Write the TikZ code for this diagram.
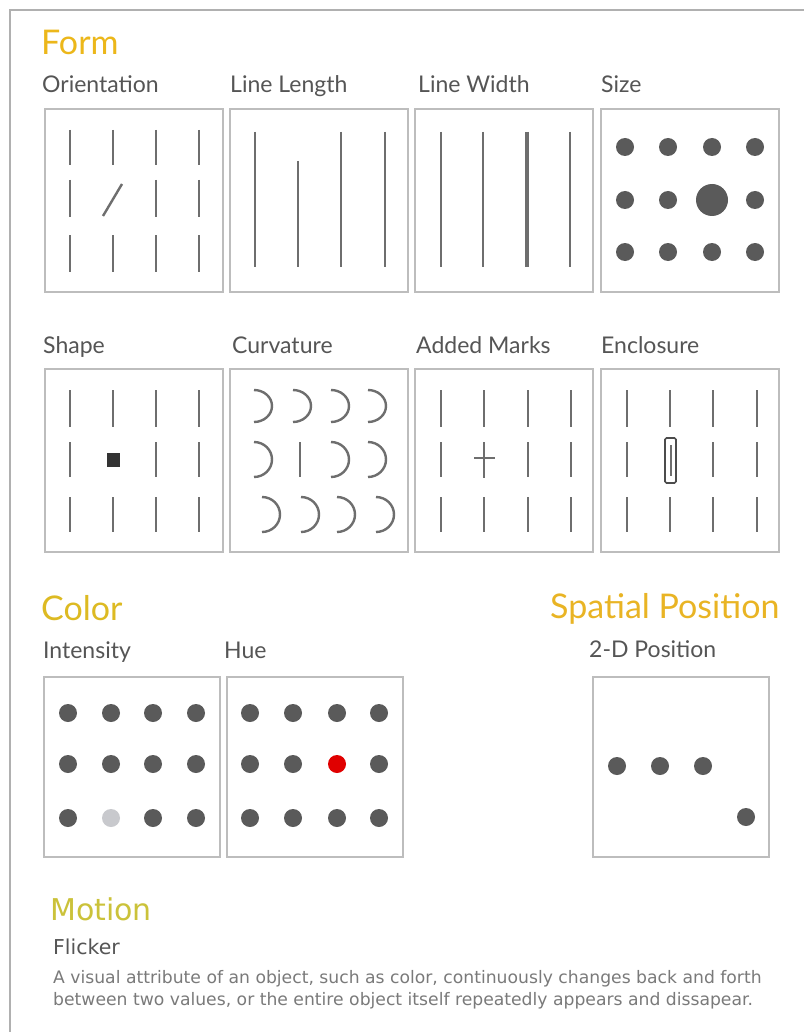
\documentclass[tikz,border=0pt]{standalone}
\usepackage{fontspec}
\setmainfont{Lato}
\newfontfamily\dejavu{DejaVu Sans}
\definecolor{framegray}{HTML}{B0B0B0}
\definecolor{boxgray}{HTML}{BDBDBD}
\definecolor{linegray}{HTML}{6E6E6E}
\definecolor{dotgray}{HTML}{5A5A5A}
\definecolor{labelgray}{HTML}{555555}
\definecolor{textgray}{HTML}{7A7A7A}
\definecolor{formgold}{HTML}{ECB71A}
\definecolor{colorgold}{HTML}{DDBA22}
\definecolor{spatialgold}{HTML}{E9B424}
\definecolor{motiongold}{HTML}{CBC23A}
\definecolor{lightdot}{HTML}{C8C9CD}
\definecolor{reddot}{HTML}{E00000}
\begin{document}
\begin{tikzpicture}[x=1pt,y=-1pt,
  header/.style={anchor=base west, inner sep=0pt, font=\fontsize{34}{38}\selectfont},
  sublabel/.style={anchor=base west, inner sep=0pt, text=labelgray, font=\fontsize{23}{27}\selectfont},
  desctext/.style={anchor=base west, inner sep=0pt, text=textgray, font=\dejavu\fontsize{17.2}{22}\selectfont},
  panel/.style={draw=boxgray, line width=1.8pt},
  bar/.style={draw=linegray, line width=2.4pt},
  dot/.style={fill=dotgray},
]
\useasboundingbox (0,0) rectangle (804,1032);
\fill[white] (0,0) rectangle (804,1032);
% outer frame
\draw[framegray, line width=1.5pt] (10,1032) -- (10,10) -- (804,10);

% ---------- Form ----------
\node[header, text=formgold] (form) at (41,55) {Form};
\node[sublabel] (lorient) at (42,93) {Orientation};
\node[sublabel] (llength) at (230,93) {Line Length};
\node[sublabel] (lwidth) at (418,93) {Line Width};
\node[sublabel] (lsize) at (601,93) {Size};

\draw[panel] (45,109) rectangle (223,292);
\draw[panel] (230,109) rectangle (408,292);
\draw[panel] (415,109) rectangle (593,292);
\draw[panel] (601,109) rectangle (779,292);

% Orientation
\foreach \x in {70,113,156,199}{
  \draw[bar] (\x,130) -- (\x,165);
  \draw[bar] (\x,235) -- (\x,272);
}
\foreach \x in {70,156,199}{ \draw[bar] (\x,180) -- (\x,217); }
\draw[bar] (103,216) -- (122,184);

% Line length
\foreach \x in {255,341,385}{ \draw[bar] (\x,132) -- (\x,267); }
\draw[bar] (298,161) -- (298,267);

% Line width
\draw[bar] (441,132) -- (441,267);
\draw[bar] (483,132) -- (483,267);
\draw[bar, line width=4.6pt] (527,132) -- (527,267);
\draw[bar, line width=2.0pt] (570,132) -- (570,267);

% Size
\foreach \x in {625,668,712,755}{
  \fill[dot] (\x,147) circle[radius=9];
  \fill[dot] (\x,252) circle[radius=9];
}
\foreach \x in {625,668,755}{ \fill[dot] (\x,200) circle[radius=9]; }
\fill[dot] (712,200) circle[radius=16];

% ---------- Row 2 ----------
\node[sublabel] (lshape) at (43,353) {Shape};
\node[sublabel] (lcurv) at (232,353) {Curvature};
\node[sublabel] (lmarks) at (416,353) {Added Marks};
\node[sublabel] (lencl) at (601,353) {Enclosure};

\draw[panel] (45,369) rectangle (223,552);
\draw[panel] (230,369) rectangle (408,552);
\draw[panel] (415,369) rectangle (593,552);
\draw[panel] (601,369) rectangle (779,552);

% Shape
\foreach \x in {70,113,156,199}{
  \draw[bar] (\x,390) -- (\x,427);
  \draw[bar] (\x,497) -- (\x,532);
}
\foreach \x in {70,156,199}{ \draw[bar] (\x,442) -- (\x,477); }
\fill[black!80] (106.5,453) rectangle (119.5,467);

% Curvature
\foreach \x in {254,293,331,368}{
  \draw[bar] (\x,390) arc[start angle=-90, end angle=90, x radius=18, y radius=16];
}
\foreach \x in {254,331,368}{
  \draw[bar] (\x,442) arc[start angle=-90, end angle=90, x radius=18, y radius=17.5];
}
\draw[bar] (300,442) -- (300,477);
\foreach \x in {262,301,337,376}{
  \draw[bar] (\x,497) arc[start angle=-90, end angle=90, x radius=18, y radius=17.5];
}

% Added marks
\foreach \x in {441,484,528,571}{
  \draw[bar] (\x,390) -- (\x,427);
  \draw[bar] (\x,497) -- (\x,532);
}
\foreach \x in {441,528,571}{ \draw[bar] (\x,442) -- (\x,477); }
\draw[bar, line width=2pt] (484,442) -- (484,478);
\draw[bar, line width=2pt] (474,458) -- (495,458);

% Enclosure
\foreach \x in {627,670,713,757}{
  \draw[bar] (\x,390) -- (\x,427);
  \draw[bar] (\x,497) -- (\x,532);
}
\foreach \x in {627,713,757}{ \draw[bar] (\x,442) -- (\x,477); }
\draw[draw=black!70, line width=1.6pt, rounded corners=1.5pt] (665,438) rectangle (676,483);
\draw[bar, line width=2pt] (670.5,445) -- (670.5,476);

% ---------- Color ----------
\node[header, text=colorgold] (color) at (41,620) {Color};
\node[sublabel] (lint) at (43,658) {Intensity};
\node[sublabel] (lhue) at (224,658) {Hue};

\draw[panel] (44,677) rectangle (220,857);
\draw[panel] (227,677) rectangle (403,857);

\foreach \x in {68,111,153,196}{
  \fill[dot] (\x,713) circle[radius=9];
  \fill[dot] (\x,764) circle[radius=9];
}
\foreach \x in {68,153,196}{ \fill[dot] (\x,818) circle[radius=9]; }
\fill[lightdot] (111,818) circle[radius=9];

\foreach \x in {250,293,337,379}{
  \fill[dot] (\x,713) circle[radius=9];
  \fill[dot] (\x,818) circle[radius=9];
}
\foreach \x in {250,293,379}{ \fill[dot] (\x,764) circle[radius=9]; }
\fill[reddot] (337,764) circle[radius=9];

% ---------- Spatial Position ----------
\node[header, text=spatialgold] (spatial) at (550,618) {Spatial Position};
\node[sublabel] (l2d) at (589,657) {2-D Position};
\draw[panel] (593,677) rectangle (769,857);
\fill[dot] (617,766) circle[radius=9];
\fill[dot] (660,766) circle[radius=9];
\fill[dot] (703,766) circle[radius=9];
\fill[dot] (746,817) circle[radius=9];

% ---------- Motion ----------
\node[anchor=base west, inner sep=0pt, text=motiongold, font=\dejavu\fontsize{30}{34}\selectfont] (motion) at (50,920) {Motion};
\node[anchor=base west, inner sep=0pt, text=labelgray, font=\dejavu\fontsize{20.5}{24}\selectfont] (flicker) at (53,954) {Flicker};
\node[desctext] (desc1) at (53,983) {A visual attribute of an object, such as color, continuously changes back and forth};
\node[desctext] (desc2) at (53,1005) {between two values, or the entire object itself repeatedly appears and dissapear.};
\end{tikzpicture}
\end{document}
